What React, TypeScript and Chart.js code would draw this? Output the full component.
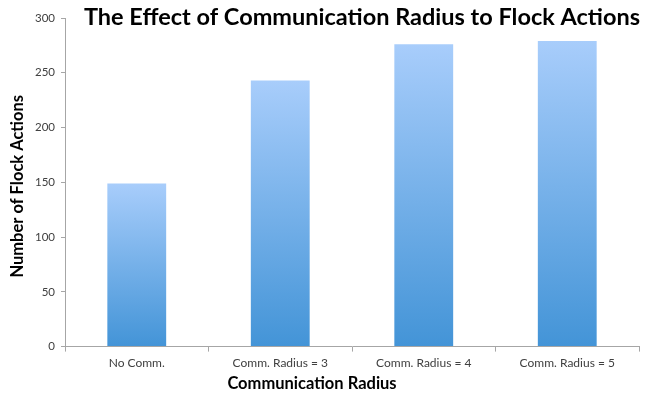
import React, { useEffect, useRef } from "react";
import { Chart, registerables } from "chart.js";

Chart.register(...registerables);

const categories = ["No Comm.", "Comm. Radius = 3", "Comm. Radius = 4", "Comm. Radius = 5"];
const flockActions = [149, 243, 276, 279];
const yTicks = [0, 50, 100, 150, 200, 250, 300];
const chartTitle = "The Effect of Communication Radius to Flock Actions";
const xTitle = "Communication Radius";
const yTitle = "Number of Flock Actions";

const titlePlugin = {
  id: "textTitles",
  afterDraw(chart: any) {
    const ctx = chart.ctx;
    const area = chart.chartArea;
    ctx.save();
    ctx.fillStyle = "#000";
    ctx.textAlign = "center";
    ctx.textBaseline = "middle";
    ctx.font = "bold 23.5px Lato";
    ctx.fillText(chartTitle, 362, 17);
    ctx.font = "bold 16.5px Lato";
    ctx.fillText(xTitle, 312, 384);
    ctx.translate(18, (area.top + area.bottom) / 2 + 4);
    ctx.rotate(-Math.PI / 2);
    ctx.fillText(yTitle, 0, 0);
    ctx.restore();
  },
};

export default function App() {
  const ref = useRef<HTMLCanvasElement>(null);
  useEffect(() => {
    document.body.style.margin = "0";
    const chart = new Chart(ref.current!, {
      type: "bar",
      data: {
        labels: categories,
        datasets: [
          {
            data: flockActions,
            backgroundColor: (c: any) => {
              const ch = c.chart;
              const y = ch.scales?.y;
              if (!y || c.raw == null) return "#6fb0ec";
              const top = y.getPixelForValue(c.raw);
              const bottom = y.getPixelForValue(0);
              if (!isFinite(top) || !isFinite(bottom) || top === bottom) return "#6fb0ec";
              const g = ch.ctx.createLinearGradient(0, top, 0, bottom);
              g.addColorStop(0, "#a8cdfb");
              g.addColorStop(1, "#4394d7");
              return g;
            },
            borderWidth: 0,
            barPercentage: 0.41,
            categoryPercentage: 1,
          },
        ],
      },
      options: {
        animation: false,
        responsive: false,
        layout: { padding: { top: 18, right: 31, bottom: 24, left: 29 } },
        plugins: { legend: { display: false }, tooltip: { enabled: false } },
        scales: {
          x: {
            grid: { drawOnChartArea: false, color: "#a6a6a6", tickLength: 5, offset: true },
            border: { color: "#a6a6a6" },
            ticks: { color: "#404040", font: { family: "Lato", size: 12 }, padding: 4 },
          },
          y: {
            min: 0,
            max: 300,
            afterBuildTicks: (s: any) => {
              s.ticks = yTicks.map((v) => ({ value: v }));
            },
            grid: { drawOnChartArea: false, color: "#a6a6a6", tickLength: 4 },
            border: { color: "#a6a6a6" },
            ticks: { color: "#404040", font: { family: "Lato", size: 11.5 }, padding: 6 },
          },
        },
      },
      plugins: [titlePlugin],
    });
    return () => chart.destroy();
  }, []);
  return <canvas ref={ref} width={670} height={398} style={{ display: "block" }} />;
}
